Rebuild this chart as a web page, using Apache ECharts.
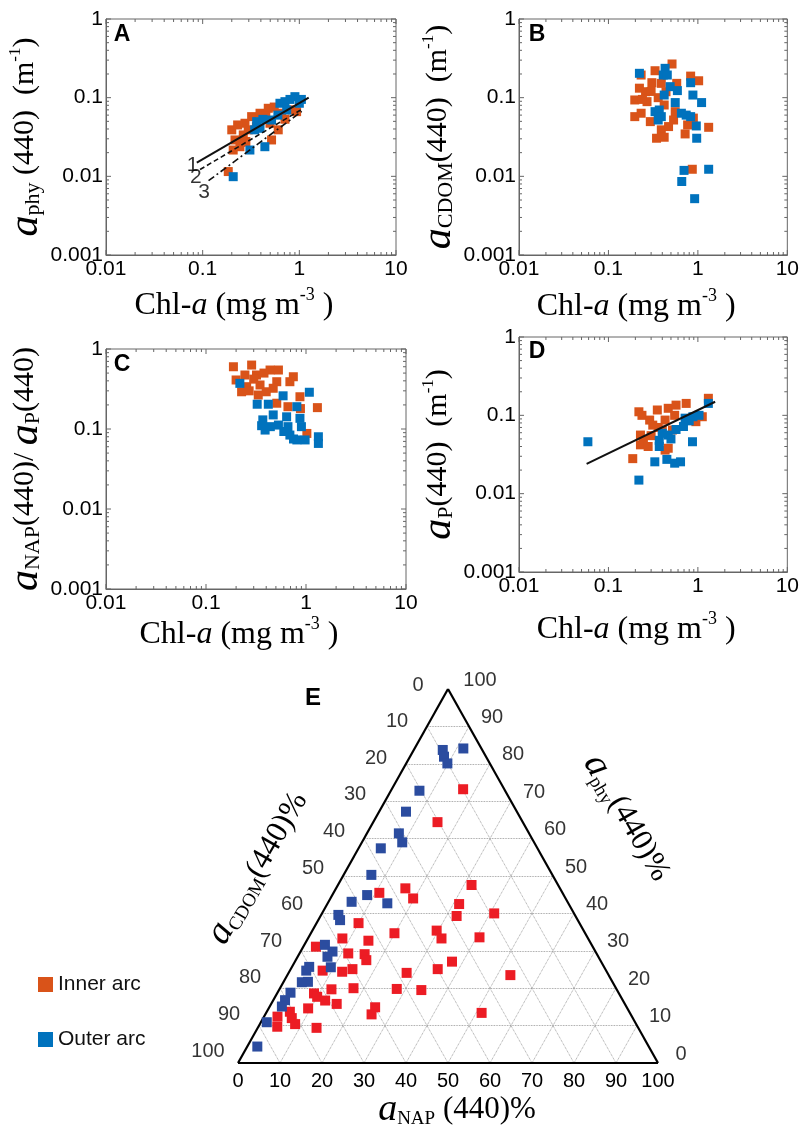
<!DOCTYPE html>
<html>
<head>
<meta charset="utf-8">
<script src="https://cdn.jsdelivr.net/npm/echarts@6/dist/echarts.min.js"></script>
<style>
  html, body { margin: 0; padding: 0; background: #fff; }
  #charts { width: 802px; height: 1129px; }
</style>
</head>
<body>
<div id="charts"></div>
<script>
// panel A: a_phy(440) vs Chl-a
var aInner = [[0.184,0.0115],[0.20,0.039],[0.216,0.029],[0.243,0.0238],[0.274,0.0473],[0.263,0.0336],[0.321,0.0574],[0.296,0.039],[0.392,0.0634],[0.477,0.0733],[0.497,0.0473],[0.516,0.029],[0.656,0.0634],[0.71,0.0532],[0.937,0.0664],[0.605,0.039],[0.207,0.0216],[0.28,0.0277],[0.36,0.0429],[0.23,0.045],[0.25,0.027],[0.45,0.058],[0.55,0.076],[0.85,0.07]];
var aOuter = [[0.207,0.0099],[0.308,0.0216],[0.44,0.0238],[0.362,0.0496],[0.392,0.0408],[0.516,0.052],[0.63,0.0849],[0.71,0.089],[0.9,0.103],[1.0,0.0849],[0.74,0.0697],[0.345,0.039],[0.42,0.053],[0.8,0.095],[1.05,0.095],[0.6,0.06]];
var fit1 = [[0.087,0.0149],[1.25,0.1]];
var fit2 = [[0.094,0.0122],[1.1,0.073]];
var fit3 = [[0.115,0.0088],[1.06,0.067]];
var fitNames = ['1', '2', '3'];

// panel B: a_CDOM(440) vs Chl-a
var bInner = [[0.514,0.268],[0.332,0.22],[0.232,0.194],[0.306,0.155],[0.39,0.152],[0.222,0.132],[0.26,0.119],[0.197,0.0935],[0.27,0.089],[0.42,0.0807],[0.44,0.119],[0.58,0.152],[0.197,0.0574],[0.232,0.0634],[0.294,0.0496],[0.39,0.039],[0.47,0.0429],[0.345,0.0305],[0.42,0.0314],[0.558,0.0664],[0.535,0.052],[0.768,0.045],[0.83,0.188],[1.02,0.164],[0.72,0.0346],[1.32,0.042],[0.866,0.0123],[0.89,0.055],[0.24,0.095],[0.3,0.12],[0.36,0.1]];
var bOuter = [[0.222,0.204],[0.43,0.236],[0.41,0.194],[0.455,0.194],[0.49,0.138],[0.59,0.123],[0.42,0.108],[0.558,0.0866],[0.83,0.155],[0.88,0.108],[1.1,0.0866],[0.332,0.0664],[0.37,0.0697],[0.39,0.0574],[0.36,0.052],[0.654,0.0634],[0.74,0.06],[0.83,0.0574],[0.96,0.0437],[0.97,0.0305],[0.70,0.0119],[0.66,0.0086],[0.92,0.0052],[1.32,0.0123]];

// panel C: a_NAP(440)/a_P(440) vs Chl-a
var cInner = [[0.188,0.60],[0.286,0.63],[0.245,0.473],[0.255,0.338],[0.227,0.292],[0.32,0.473],[0.347,0.355],[0.333,0.266],[0.437,0.546],[0.53,0.546],[0.51,0.39],[0.47,0.323],[0.40,0.292],[0.747,0.45],[0.69,0.39],[0.51,0.21],[0.66,0.19],[0.87,0.253],[0.88,0.18],[1.30,0.185],[1.02,0.088],[0.2,0.41],[0.3,0.42],[0.38,0.5],[0.27,0.3]];
var cOuter = [[0.218,0.372],[0.325,0.204],[0.42,0.204],[0.59,0.26],[0.81,0.19],[1.08,0.288],[0.37,0.13],[0.39,0.097],[0.47,0.15],[0.53,0.112],[0.64,0.142],[0.66,0.107],[0.69,0.084],[0.87,0.136],[0.9,0.107],[0.81,0.073],[0.98,0.073],[1.33,0.08],[1.33,0.066],[0.44,0.107],[0.6,0.093],[0.36,0.11],[0.75,0.075]];

// panel D: a_P(440) vs Chl-a
var dInner = [[0.219,0.111],[0.237,0.1],[0.352,0.117],[0.466,0.123],[0.57,0.135],[0.74,0.142],[0.289,0.087],[0.313,0.075],[0.43,0.087],[0.55,0.1],[0.228,0.056],[0.246,0.048],[0.228,0.042],[0.278,0.04],[0.4,0.065],[0.52,0.065],[0.466,0.038],[0.43,0.036],[0.187,0.028],[1.12,0.096],[1.31,0.165],[0.95,0.083],[0.3,0.055],[0.36,0.07]];
var dOuter = [[0.0589,0.046],[0.219,0.0149],[0.33,0.0255],[0.45,0.0274],[0.55,0.0245],[0.64,0.0255],[0.87,0.046],[0.37,0.048],[0.4,0.059],[0.466,0.056],[0.57,0.066],[0.69,0.072],[0.72,0.092],[0.88,0.096],[1.03,0.1],[1.31,0.142],[0.37,0.04],[0.5,0.05],[0.8,0.085]];
var fitD = [[0.057,0.024],[1.56,0.149]];

// panel E: ternary, [a_NAP %, a_phy %] (a_CDOM % is the rest)
var eInner = [[17.0,73.2],[15.3,64.4],[31.8,47.6],[10.9,45.5],[16.5,46.7],[19.7,44.0],[31.4,42.5],[41.0,40.0],[32.4,39.3],[10.0,37.4],[19.9,34.7],[29.6,35.4],[31.8,33.3],[40.7,33.6],[8.2,33.3],[14.7,32.7],[3.0,31.1],[11.6,29.3],[15.6,29.1],[16.8,27.5],[37.4,27.1],[7.8,24.7],[12.6,24.4],[14.7,25.1],[28.1,24.1],[35.0,25.1],[53.1,23.5],[12.4,19.7],[17.5,20.0],[27.9,19.8],[33.9,19.5],[8.8,18.6],[10.0,17.7],[12.4,16.7],[15.6,15.8],[9.4,14.6],[25.2,14.9],[25.3,13.0],[51.3,13.4],[3.2,12.4],[5.5,13.7],[6.8,12.0],[4.5,9.7],[8.4,10.4],[14.0,9.4]];
var eOuter = [[11.6,84.1],[6.9,83.7],[8.1,81.9],[9.8,80.1],[6.8,72.8],[6.4,67.2],[7.6,61.4],[9.6,59.0],[5.3,57.4],[6.6,50.3],[8.3,44.9],[5.5,43.1],[14.2,42.7],[4.1,39.6],[5.2,38.2],[4.9,31.6],[7.6,29.8],[7.1,28.4],[9.3,25.6],[4.1,25.7],[3.9,24.7],[5.8,21.7],[4.4,21.6],[3.1,18.8],[2.8,16.8],[2.9,15.1],[1.4,10.9],[2.4,4.4]];
var ternTicks = [0, 10, 20, 30, 40, 50, 60, 70, 80, 90, 100];

var xDecades = [0.01, 0.1, 1, 10];
var yDecades = [0.001, 0.01, 0.1, 1];
var minorSteps = [2, 3, 4, 5, 6, 7, 8, 9];

var colInner = '#D95319', colOuter = '#0072BD';
var colInnerE = '#EC1C24', colOuterE = '#2B4C9F';
var sans = 'Liberation Sans', serif = 'Liberation Serif';

var chart = echarts.init(document.getElementById('charts'));

function richStyles(base, big, sub) {
    var lh = Math.round(base * 1.22);
    return {
        it: { fontFamily: serif, fontStyle: 'italic', fontSize: big, lineHeight: lh, color: '#000' },
        ia: { fontFamily: serif, fontStyle: 'italic', fontSize: base, lineHeight: lh, color: '#000' },
        n: { fontFamily: serif, fontSize: base, lineHeight: lh, color: '#000' },
        sub: { fontFamily: serif, fontSize: sub, lineHeight: lh, verticalAlign: 'bottom', color: '#000' },
        sup: { fontFamily: serif, fontSize: Math.round(base * 0.55), lineHeight: lh, verticalAlign: 'top', color: '#000' }
    };
}

var chlName = '{n|Chl-}{ia|a}{n| (mg m}{sup|-3}{n| )}';
var yNames = [
    '{it|a}{sub|phy}{n| (440)  (m}{sup|-1}{n|)}',
    '{it|a}{sub|CDOM}{n|(440)  (m}{sup|-1}{n|)}',
    '{it|a}{sub|NAP}{n|(440)/ }{it|a}{sub|P}{n|(440)}',
    '{it|a}{sub|P}{n|(440)  (m}{sup|-1}{n|)}'
];

var grids = [
    { left: 106, top: 19, width: 290, height: 236 },
    { left: 519, top: 19, width: 290, height: 236 },
    { left: 106, top: 349, width: 300, height: 240 },
    { left: 519, top: 337, width: 290, height: 235 },
    { left: 238, top: 689, width: 420, height: 374 }
];
var xNameGaps = [31, 32, 24, 38];
var yNameGaps = [58, 62, 55, 60];

function logLabel(v) {
    return String(+v.toPrecision(3));
}

var xAxes = [], yAxes = [], series = [];

// tick marks (major + minor, on all four sides of the box)
function tickData() {
    var out = [], i, j;
    for (i = 0; i < xDecades.length; i++) {
        out.push([xDecades[i], yDecades[0], 0, 5]);
        if (i < xDecades.length - 1) {
            for (j = 0; j < minorSteps.length; j++) out.push([xDecades[i] * minorSteps[j], yDecades[0], 0, 3]);
        }
    }
    for (i = 0; i < yDecades.length; i++) {
        out.push([xDecades[0], yDecades[i], 1, 5]);
        if (i < yDecades.length - 1) {
            for (j = 0; j < minorSteps.length; j++) out.push([xDecades[0], yDecades[i] * minorSteps[j], 1, 3]);
        }
    }
    return out;
}

function renderTick(params, api) {
    var v0 = api.value(0), v1 = api.value(1), kind = api.value(2), len = api.value(3);
    var style = { stroke: '#666', lineWidth: 1 };
    var p0, p1;
    if (kind === 0) {
        p0 = api.coord([v0, yDecades[0]]);
        p1 = api.coord([v0, yDecades[yDecades.length - 1]]);
        return { type: 'group', children: [
            { type: 'line', shape: { x1: p0[0], y1: p0[1], x2: p0[0], y2: p0[1] - len }, style: style },
            { type: 'line', shape: { x1: p1[0], y1: p1[1], x2: p1[0], y2: p1[1] + len }, style: style }
        ] };
    }
    p0 = api.coord([xDecades[0], v1]);
    p1 = api.coord([xDecades[xDecades.length - 1], v1]);
    return { type: 'group', children: [
        { type: 'line', shape: { x1: p0[0], y1: p0[1], x2: p0[0] + len, y2: p0[1] }, style: style },
        { type: 'line', shape: { x1: p1[0], y1: p1[1], x2: p1[0] - len, y2: p1[1] }, style: style }
    ] };
}

var panels = [[aInner, aOuter], [bInner, bOuter], [cInner, cOuter], [dInner, dOuter]];
var i;
for (i = 0; i < 4; i++) {
    xAxes.push({
        type: 'log', logBase: 10, gridIndex: i, min: 0.01, max: 10,
        axisLine: { lineStyle: { color: '#666' } },
        axisTick: { show: false },
        splitLine: { show: false },
        axisLabel: { color: '#000', fontFamily: sans, fontSize: 21, margin: 4, formatter: logLabel },
        name: chlName, nameLocation: 'middle', nameGap: xNameGaps[i],
        nameTextStyle: { rich: richStyles(32, 32, 18), padding: [0, 34, 0, 0] }
    });
    yAxes.push({
        type: 'log', logBase: 10, gridIndex: i, min: 0.001, max: 1,
        axisLine: { lineStyle: { color: '#666' } },
        axisTick: { show: false },
        splitLine: { show: false },
        axisLabel: { color: '#000', fontFamily: sans, fontSize: 21, margin: 3, formatter: logLabel },
        name: yNames[i], nameLocation: 'middle', nameGap: yNameGaps[i],
        nameTextStyle: { rich: richStyles(30, 42, 22) }
    });
    series.push({
        type: 'custom', xAxisIndex: i, yAxisIndex: i, silent: true,
        renderItem: renderTick, data: tickData(), z: 1
    });
    series.push({
        name: 'Inner arc', type: 'scatter', xAxisIndex: i, yAxisIndex: i,
        symbol: 'rect', symbolSize: 9, itemStyle: { color: colInner, opacity: 1 }, data: panels[i][0], z: 3
    });
    series.push({
        name: 'Outer arc', type: 'scatter', xAxisIndex: i, yAxisIndex: i,
        symbol: 'rect', symbolSize: 9, itemStyle: { color: colOuter, opacity: 1 }, data: panels[i][1], z: 4
    });
}

// regression lines in A and D
var fitsA = [fit1, fit2, fit3];
var dashes = ['solid', [5, 3], [7, 3, 2, 3]];
for (i = 0; i < 3; i++) {
    series.push({
        type: 'line', xAxisIndex: 0, yAxisIndex: 0, data: fitsA[i], symbol: 'none', silent: true,
        lineStyle: { color: '#111', width: i === 0 ? 2 : 1.6, type: dashes[i] }, z: 5
    });
}
var labelOffsets = [[3, 2], [3, 8], [3, 12]];
series.push({
    type: 'scatter', xAxisIndex: 0, yAxisIndex: 0, symbolSize: 1, silent: true,
    itemStyle: { color: 'rgba(0,0,0,0)' }, z: 6,
    data: fitsA.map(function (f, k) {
        return { value: f[0], label: { show: true, formatter: fitNames[k], position: 'left', distance: 1,
            offset: labelOffsets[k], color: '#000', fontFamily: sans, fontSize: 21 } };
    })
});
series.push({
    type: 'line', xAxisIndex: 3, yAxisIndex: 3, data: fitD, symbol: 'none', silent: true,
    lineStyle: { color: '#111', width: 2 }, z: 5
});

// ternary panel E
function toXY(nap, phy) { return [nap + phy / 2, phy]; }

xAxes.push({
    type: 'value', gridIndex: 4, min: 0, max: 100, interval: 10,
    axisLine: { show: false }, axisTick: { show: false }, splitLine: { show: false },
    axisLabel: { color: '#000', fontFamily: sans, fontSize: 20, margin: 8 }
});
yAxes.push({
    type: 'value', gridIndex: 4, min: 0, max: 100, show: false
});

var gridLines = [];
ternTicks.slice(1, -1).forEach(function (t) {
    gridLines.push({ coords: [toXY(0, t), toXY(100 - t, t)] });
    gridLines.push({ coords: [toXY(t, 0), toXY(t, 100 - t)] });
    gridLines.push({ coords: [toXY(100 - t, 0), toXY(0, 100 - t)] });
});
series.push({
    type: 'lines', coordinateSystem: 'cartesian2d', xAxisIndex: 4, yAxisIndex: 4, silent: true,
    lineStyle: { color: '#888', width: 0.8, type: 'dotted', opacity: 1 }, data: gridLines, z: 1
});
series.push({
    type: 'lines', coordinateSystem: 'cartesian2d', xAxisIndex: 4, yAxisIndex: 4, silent: true,
    lineStyle: { color: '#000', width: 2.2, opacity: 1 }, z: 2,
    data: [
        { coords: [toXY(0, 0), toXY(100, 0)] },
        { coords: [toXY(100, 0), toXY(0, 100)] },
        { coords: [toXY(0, 100), toXY(0, 0)] }
    ]
});
series.push({
    name: 'Inner arc E', type: 'scatter', xAxisIndex: 4, yAxisIndex: 4, symbol: 'rect', symbolSize: 10,
    itemStyle: { color: colInnerE, opacity: 1 }, z: 3,
    data: eInner.map(function (p) { return toXY(p[0], p[1]); })
});
series.push({
    name: 'Outer arc E', type: 'scatter', xAxisIndex: 4, yAxisIndex: 4, symbol: 'rect', symbolSize: 10,
    itemStyle: { color: colOuterE, opacity: 1 }, z: 4,
    data: eOuter.map(function (p) { return toXY(p[0], p[1]); })
});
// a_CDOM tick labels on the left side, a_phy tick labels on the right side
series.push({
    type: 'scatter', xAxisIndex: 4, yAxisIndex: 4, symbolSize: 1, silent: true,
    itemStyle: { color: 'rgba(0,0,0,0)' },
    data: ternTicks.map(function (c) {
        return { value: toXY(0, 100 - c), label: { show: true, formatter: String(c), position: 'inside',
            offset: [-30, -4 - 0.08 * c], color: '#000', fontFamily: sans, fontSize: 20 } };
    })
});
series.push({
    type: 'scatter', xAxisIndex: 4, yAxisIndex: 4, symbolSize: 1, silent: true,
    itemStyle: { color: 'rgba(0,0,0,0)' },
    data: ternTicks.map(function (p) {
        return { value: toXY(100 - p, p), label: { show: true, formatter: String(p), position: 'inside',
            offset: [p === 100 ? 32 : 23, -9], color: '#000', fontFamily: sans, fontSize: 20 } };
    })
});

function letter(t, x, y, size) {
    return { type: 'text', x: x, y: y, style: { text: t, fontFamily: sans, fontWeight: 'bold', fontSize: size,
        fill: '#000', align: 'center', verticalAlign: 'middle' } };
}
function richText(t, x, y, rot) {
    return { type: 'text', x: x, y: y, rotation: rot,
        style: { text: t, rich: richStyles(31, 38, 19), align: 'center', verticalAlign: 'middle', fill: '#000' } };
}

var option = {
    animation: false,
    backgroundColor: '#fff',
    grid: grids.map(function (g, k) {
        return Object.assign({ show: k < 4, borderColor: '#666', borderWidth: 1, containLabel: false }, g);
    }),
    xAxis: xAxes,
    yAxis: yAxes,
    legend: {
        data: ['Inner arc', 'Outer arc'], orient: 'vertical', left: 33, top: 969,
        icon: 'rect', itemWidth: 15, itemHeight: 15, itemGap: 34, itemStyle: { opacity: 1 }, selectedMode: false,
        textStyle: { fontFamily: sans, fontSize: 21, color: '#111' }
    },
    graphic: [
        letter('A', 122, 35, 23),
        letter('B', 537, 35, 23),
        letter('C', 122, 365, 23),
        letter('D', 537, 352, 23),
        letter('E', 313, 698, 24),
        richText('{it|a}{sub|NAP}{n| (440)%}', 457, 1110, 0),
        richText('{it|a}{sub|CDOM}{n|(440)%}', 258, 868, Math.PI / 3),
        richText('{it|a}{sub|phy}{n|(440)%}', 627, 818, -Math.PI / 3)
    ],
    series: series
};

chart.setOption(option);
</script>
</body>
</html>
